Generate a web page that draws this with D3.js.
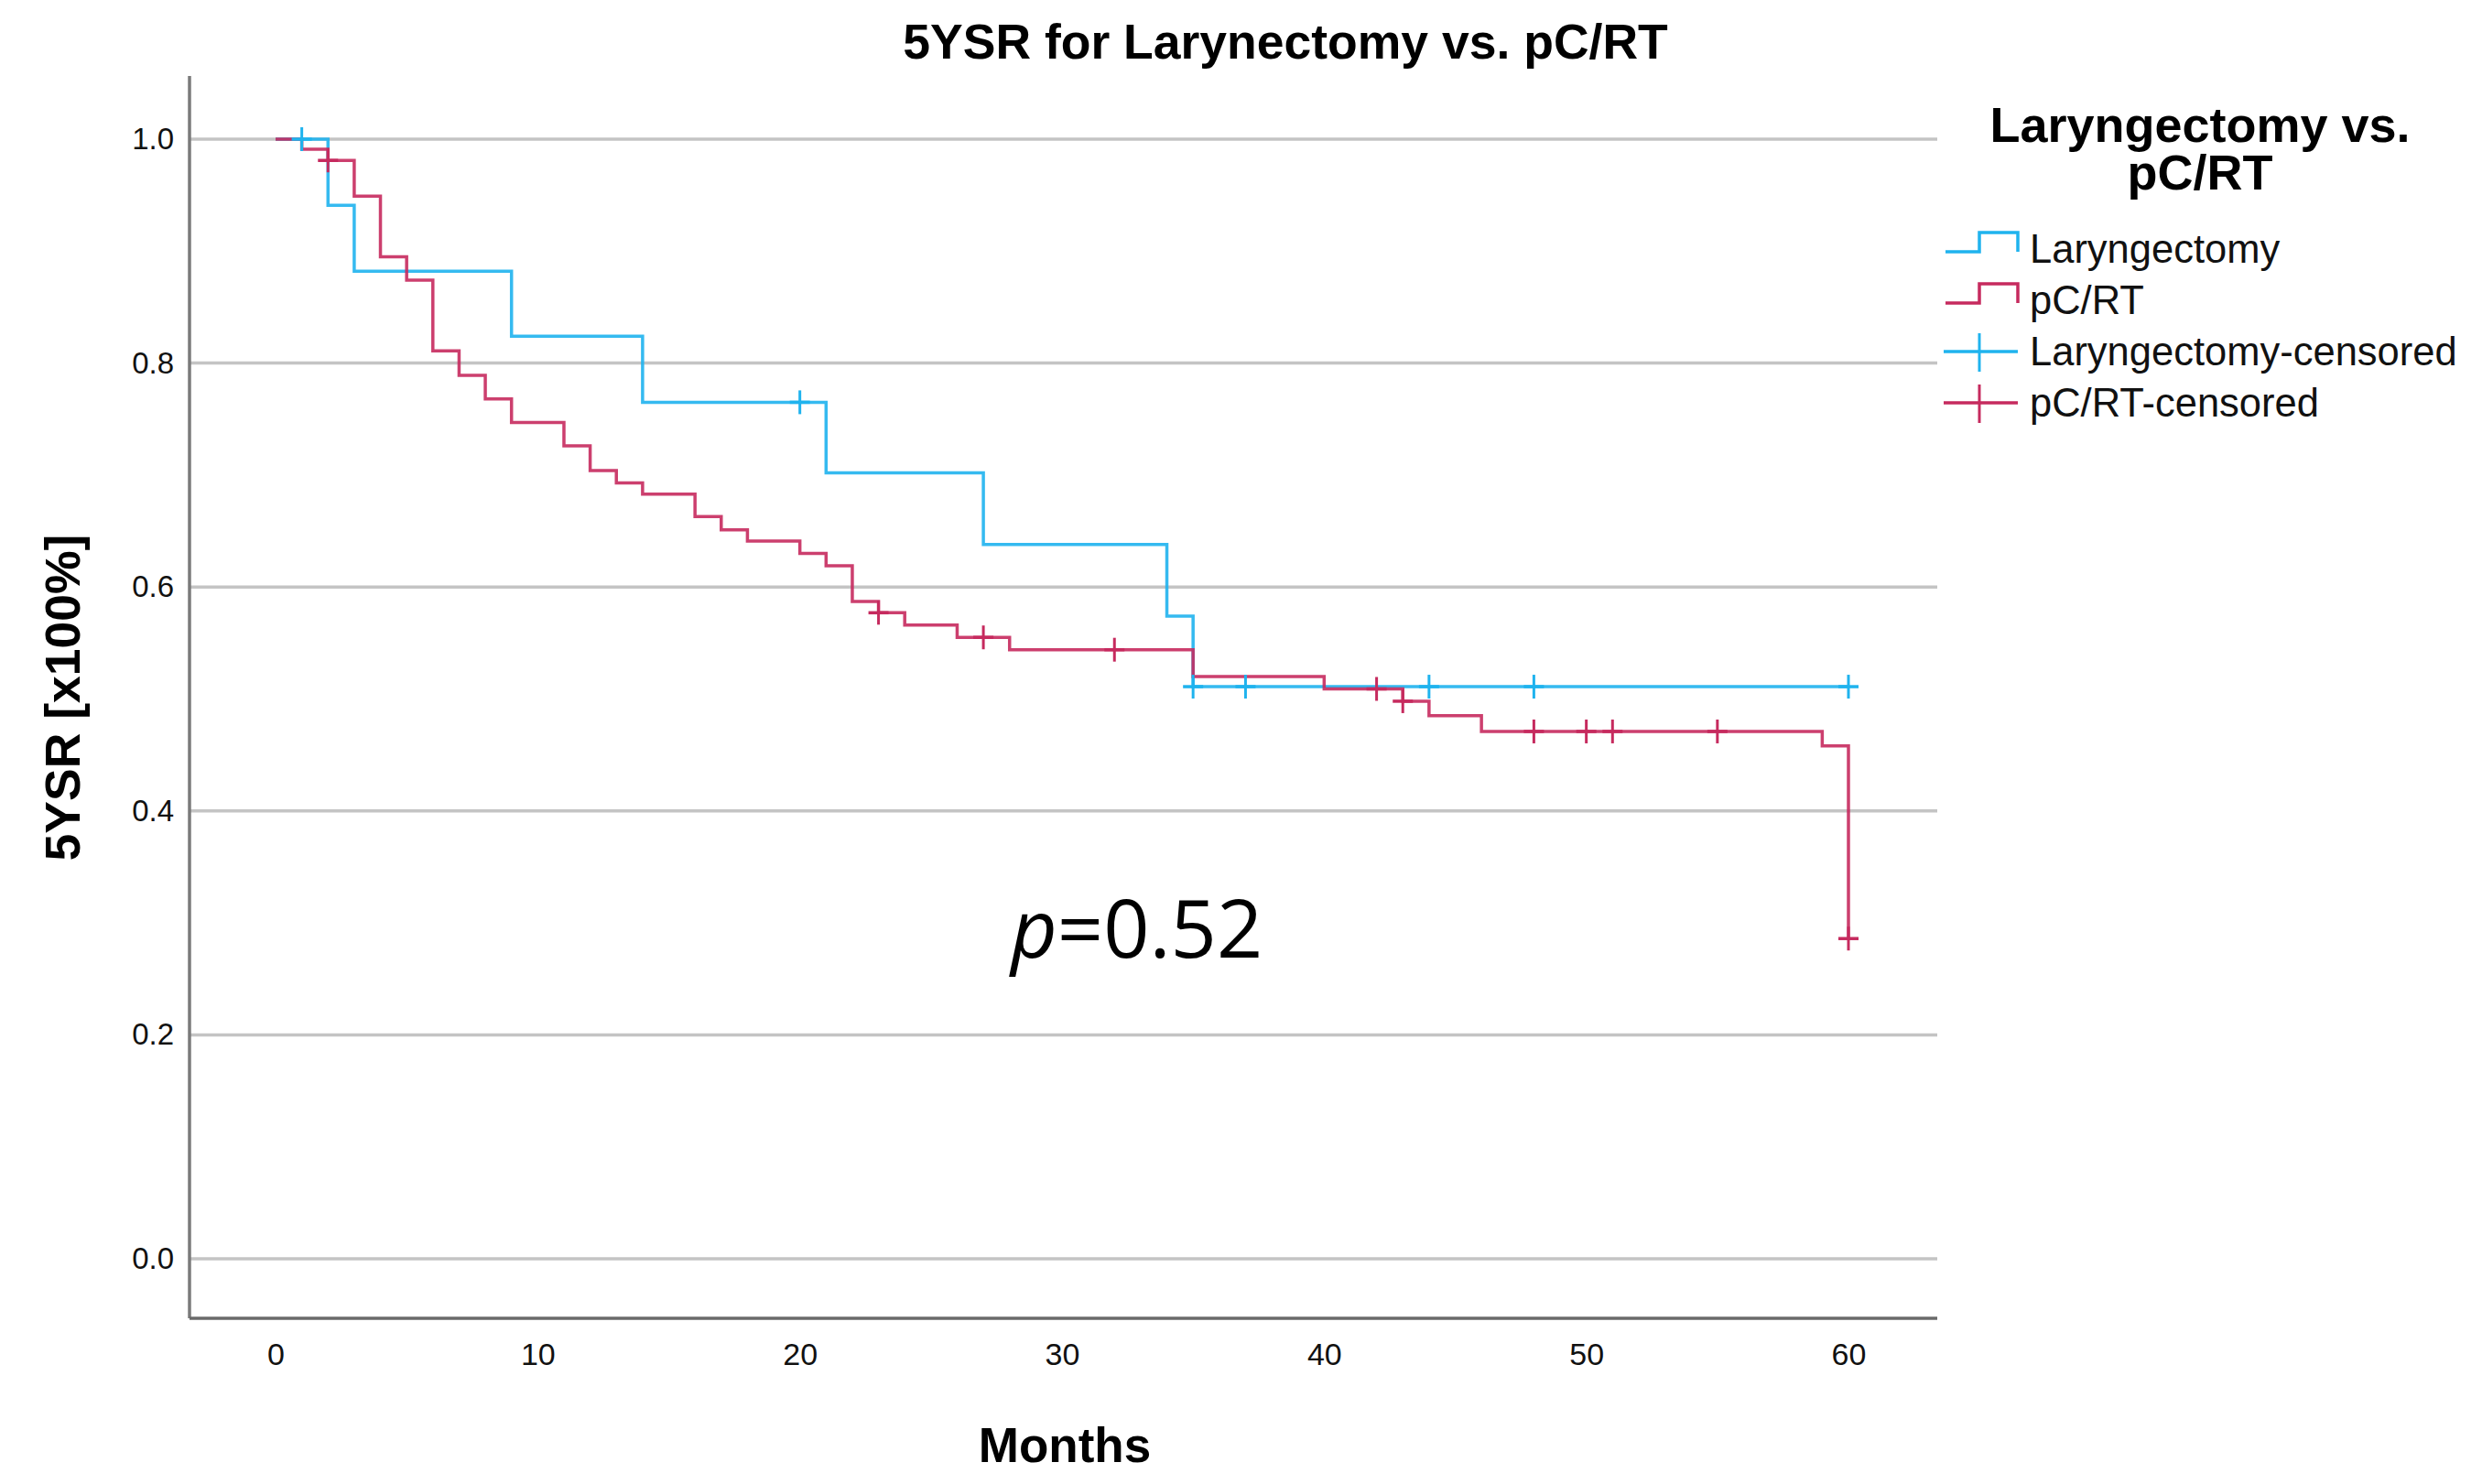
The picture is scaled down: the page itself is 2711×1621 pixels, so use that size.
<!DOCTYPE html>
<html>
<head>
<meta charset="utf-8">
<script src="https://cdn.jsdelivr.net/npm/d3@7"></script>
<style>
  body { margin: 0; background: #fff; }
  text { font-family: "Liberation Sans", Arial, sans-serif; }
</style>
</head>
<body>
<div id="container"></div>
<script>
// survival steps
const larTimes = [0, 2, 3, 9, 14, 21, 27, 34, 35, 60];
const larSurv = [1.0, 0.941, 0.882, 0.824, 0.765, 0.702, 0.638, 0.574, 0.511, 0.511];
const larCensored = [1, 20, 35, 37, 44, 48, 60];

const pcrtTimes = [0, 1, 2, 3, 4, 5, 6, 7, 8, 9, 11, 12, 13, 14, 16, 17, 18, 20, 21, 22, 23, 24, 26, 28, 35, 40, 43, 44, 46, 59, 60];
const pcrtSurv = [1.0, 0.991, 0.981, 0.949, 0.895, 0.874, 0.811, 0.789, 0.768, 0.747, 0.726, 0.704, 0.693, 0.683, 0.663, 0.651, 0.641, 0.630, 0.619, 0.587, 0.577, 0.566, 0.555, 0.544, 0.520, 0.509, 0.498, 0.485, 0.471, 0.458, 0.286];
const pcrtCensored = [2, 23, 27, 32, 42, 43, 48, 50, 51, 55, 60];

const xTicks = [0, 10, 20, 30, 40, 50, 60];
const yTicks = [0.0, 0.2, 0.4, 0.6, 0.8, 1.0];
const legendLabels = ["Laryngectomy", "pC/RT", "Laryngectomy-censored", "pC/RT-censored"];

const W = 2711, H = 1621;
const blue = "#1fb3ee";
const red = "#c62a5e";

const svg = d3.select("#container")
  .append("svg")
    .attr("width", W)
    .attr("height", H);

svg.append("rect").attr("width", W).attr("height", H).attr("fill", "#fff");

// scales
const x = d3.scaleLinear().domain([0, 60]).range([301, 2019]);
const y = d3.scaleLinear().domain([0, 1]).range([1375, 152]);
const axisLeftX = 207, axisRightX = 2116, axisBottomY = 1440, axisTopY = 83;

// gridlines
svg.append("g")
  .selectAll("line")
  .data(yTicks)
  .join("line")
    .attr("x1", axisLeftX)
    .attr("x2", axisRightX)
    .attr("y1", d => y(d))
    .attr("y2", d => y(d))
    .attr("stroke", "#c4c4c4")
    .attr("stroke-width", 3.5);

// y axis
const yAxis = svg.append("g")
  .attr("transform", `translate(${axisLeftX},0)`)
  .call(d3.axisLeft(y).tickValues(yTicks).tickSize(0).tickPadding(17).tickFormat(d3.format(".1f")));
yAxis.select(".domain").remove();
yAxis.selectAll("text")
  .attr("font-size", 33)
  .attr("font-family", "Liberation Sans, Arial, sans-serif")
  .attr("fill", "#111");

// x axis
const xAxis = svg.append("g")
  .attr("transform", `translate(0,${axisBottomY})`)
  .call(d3.axisBottom(x).tickValues(xTicks).tickSize(0).tickPadding(27));
xAxis.select(".domain").remove();
xAxis.selectAll("text")
  .attr("font-size", 34)
  .attr("font-family", "Liberation Sans, Arial, sans-serif")
  .attr("fill", "#111");

// axis lines
svg.append("line")
  .attr("x1", axisLeftX).attr("x2", axisLeftX)
  .attr("y1", axisTopY).attr("y2", axisBottomY)
  .attr("stroke", "#7a7a7a").attr("stroke-width", 3.5);
svg.append("line")
  .attr("x1", axisLeftX).attr("x2", axisRightX)
  .attr("y1", axisBottomY).attr("y2", axisBottomY)
  .attr("stroke", "#6a6a6a").attr("stroke-width", 3.5);

// step curves
const line = d3.line()
  .x(d => x(d[0]))
  .y(d => y(d[1]))
  .curve(d3.curveStepAfter);

function survAt(times, surv, t) {
  let v = surv[0];
  times.forEach((tt, i) => { if (tt <= t) v = surv[i]; });
  return v;
}

const groups = [
  {times: larTimes, surv: larSurv, cens: larCensored, color: blue},
  {times: pcrtTimes, surv: pcrtSurv, cens: pcrtCensored, color: red}
];

groups.forEach(g => {
  svg.append("path")
    .datum(g.times.map((t, i) => [t, g.surv[i]]))
    .attr("fill", "none")
    .attr("stroke", g.color)
    .attr("stroke-opacity", 0.9)
    .attr("stroke-width", 3.5)
    .attr("d", line);
});

groups.forEach(g => {
  const marks = svg.append("g")
    .selectAll("g")
    .data(g.cens)
    .join("g")
      .attr("transform", d => `translate(${x(d)},${y(survAt(g.times, g.surv, d))})`);
  marks.append("line")
    .attr("x1", -11).attr("x2", 11).attr("y1", 0).attr("y2", 0)
    .attr("stroke", g.color).attr("stroke-width", 3.5);
  marks.append("line")
    .attr("x1", 0).attr("x2", 0).attr("y1", -13).attr("y2", 13)
    .attr("stroke", g.color).attr("stroke-width", 3);
});

// title and axis labels
svg.append("text")
  .attr("x", 1404).attr("y", 64)
  .attr("text-anchor", "middle")
  .attr("font-size", 53.5).attr("font-weight", "bold")
  .text("5YSR for Larynectomy vs. pC/RT");

svg.append("text")
  .attr("transform", "translate(87,762) rotate(-90)")
  .attr("text-anchor", "middle")
  .attr("font-size", 53.5).attr("font-weight", "bold")
  .text("5YSR [x100%]");

svg.append("text")
  .attr("x", 1163).attr("y", 1597)
  .attr("text-anchor", "middle")
  .attr("font-size", 53).attr("font-weight", "bold")
  .text("Months");

// p value
const pText = svg.append("text")
  .attr("x", 1104).attr("y", 1046)
  .attr("font-family", "Open Sans, sans-serif")
  .attr("font-size", 88)
  .attr("fill", "#000");
pText.append("tspan").attr("font-style", "italic").attr("font-family", "Open Sans, sans-serif").text("p");
pText.append("tspan").attr("font-family", "Open Sans, sans-serif").text("=0.52");

// legend
const legend = svg.append("g");
legend.append("text")
  .attr("x", 2403).attr("y", 155)
  .attr("text-anchor", "middle")
  .attr("font-size", 54).attr("font-weight", "bold")
  .text("Laryngectomy vs.");
legend.append("text")
  .attr("x", 2403).attr("y", 207)
  .attr("text-anchor", "middle")
  .attr("font-size", 54).attr("font-weight", "bold")
  .text("pC/RT");

const legColors = [blue, red, blue, red];
const rowY = d3.scaleLinear().domain([0, 3]).range([272, 440]);

legendLabels.forEach((lab, i) => {
  const cy = rowY(i);
  const c = legColors[i];
  if (i < 2) {
    legend.append("path")
      .attr("d", `M2125,${cy + 3} H2162 V${cy - 18} H2204 V${cy + 3}`)
      .attr("fill", "none").attr("stroke", c).attr("stroke-width", 3.5);
  } else {
    legend.append("line")
      .attr("x1", 2123).attr("x2", 2204).attr("y1", cy).attr("y2", cy)
      .attr("stroke", c).attr("stroke-width", 3.5);
    legend.append("line")
      .attr("x1", 2162).attr("x2", 2162).attr("y1", cy - 20).attr("y2", cy + 22)
      .attr("stroke", c).attr("stroke-width", 3);
  }
  legend.append("text")
    .attr("x", 2217).attr("y", cy + 15)
    .attr("font-size", 43.5)
    .attr("fill", "#111")
    .text(lab);
});
</script>
</body>
</html>
